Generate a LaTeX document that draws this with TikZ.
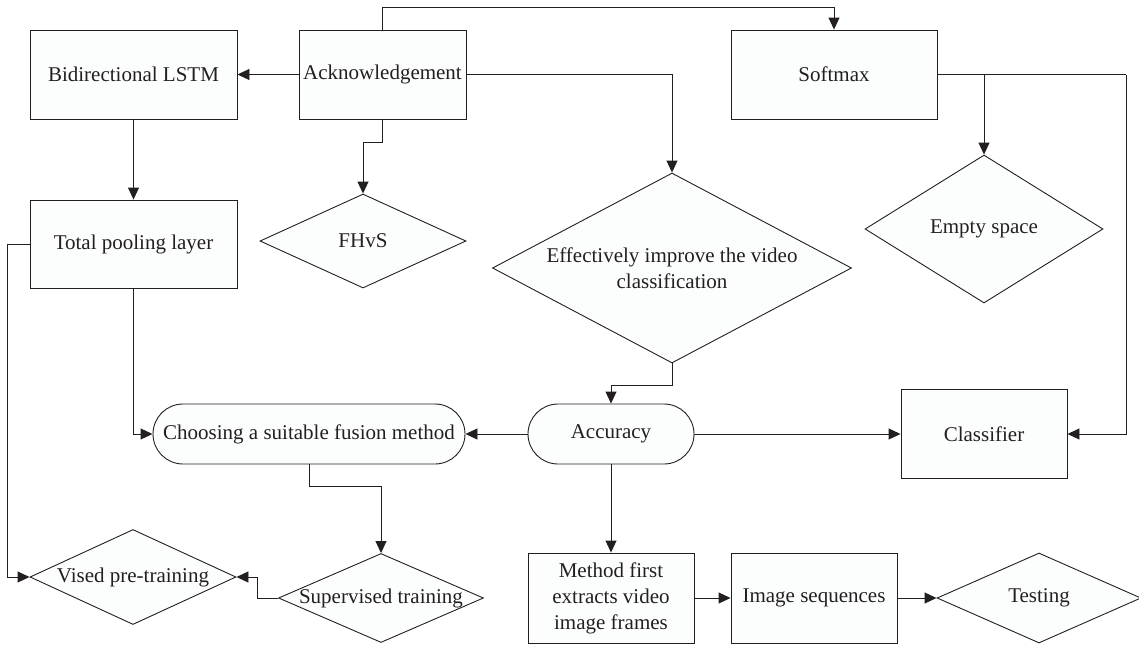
\documentclass[tikz,border=0pt]{standalone}
\usepackage{fontspec}
\setmainfont{Liberation Serif}
\usetikzlibrary{shapes.geometric,arrows.meta,calc}
\definecolor{ln}{RGB}{35,31,32}
\definecolor{bg}{RGB}{252,254,254}
\begin{document}
\begin{tikzpicture}[x=1pt,y=-1pt,
  every node/.style={font=\fontsize{21}{26}\selectfont, text=ln},
  box/.style={draw=ln, fill=bg, line width=0.9pt, rectangle, inner sep=0pt, align=center},
  pill/.style={draw=ln, fill=bg, line width=0.9pt, rectangle, rounded corners=30pt, inner sep=0pt, minimum height=60pt},
  dia/.style={draw=ln, fill=bg, line width=0.9pt, diamond, inner sep=0pt},
  conn/.style={draw=ln, line width=0.9pt},
  arr/.style={conn, -{Triangle[length=12pt,width=11pt]}}]
\useasboundingbox (0,0) rectangle (1139,648);

% rectangles
\node[box, minimum width=207pt, minimum height=89pt] (bilstm) at (133.5,74.5) {Bidirectional LSTM};
\node[box, minimum width=167pt, minimum height=89pt] (ack) at (382.5,74.5) {Acknowledgement};
\node[box, minimum width=206pt, minimum height=89pt] (soft) at (834,74.5) {Softmax};
\node[box, minimum width=207pt, minimum height=88pt] (pool) at (133.5,244) {Total pooling layer};
\node[box, minimum width=166pt, minimum height=89pt] (cls) at (984,434) {Classifier};
\node[box, minimum width=166pt, minimum height=90pt] (method) at (611,598) {Method first\\extracts video\\image frames};
\node[box, minimum width=166pt, minimum height=90pt] (imgseq) at (814,598) {Image sequences};

% pills
\node[pill, minimum width=312pt] (choose) at (309,434) {Choosing a suitable fusion method};
\node[pill, minimum width=166pt] (acc) at (611,434) {Accuracy};

% diamonds
\node[dia, minimum width=206pt, minimum height=94pt, label=center:{FHvS}] (fhvs) at (363,241) {};
\node[dia, minimum width=359pt, minimum height=190pt, label={[align=center]center:Effectively improve the video\\classification}] (eff) at (672,268) {};
\node[dia, minimum width=238pt, minimum height=148pt, label=center:{Empty space}] (empty) at (984,229) {};
\node[dia, minimum width=206pt, minimum height=95pt, label=center:{Vised pre-training}] (vised) at (133,577) {};
\node[dia, minimum width=205pt, minimum height=89pt, label=center:{Supervised training}] (sup) at (381,598) {};
\node[dia, minimum width=204pt, minimum height=90pt, label=center:{Testing}] (test) at (1039,598) {};

\coordinate (rc) at (1126,74.5);

% connectors
\draw[arr] (ack) -- (bilstm);
\draw[arr] (ack.north) -- ++(0,-22) -| (soft.north);
\draw[arr] (ack.east) -| (eff.north);
\draw[arr] (ack.south) -- ++(0,23) -| (fhvs.north);
\draw[arr] (bilstm) -- (pool);
\draw[arr] (pool.west) -- ++(-22,0) |- (vised.west);
\draw[arr] (pool.south) |- (choose.west);
\draw[arr] (soft.east) -| (empty.north);
\draw[conn] (soft.east) -- (rc);
\draw[arr] (rc) |- (cls.east);
\draw[arr] (eff.south) -- ++(0,22) -| (acc.north);
\draw[arr] (acc) -- (choose);
\draw[arr] (acc) -- (cls);
\draw[arr] (acc) -- (method);
\draw[arr] (choose.south) -- ++(0,22) -| (sup.north);
\draw[arr] (sup.west) -- ++(-21,0) |- (vised.east);
\draw[arr] (method) -- (imgseq);
\draw[arr] (imgseq) -- (test);
\end{tikzpicture}
\end{document}
